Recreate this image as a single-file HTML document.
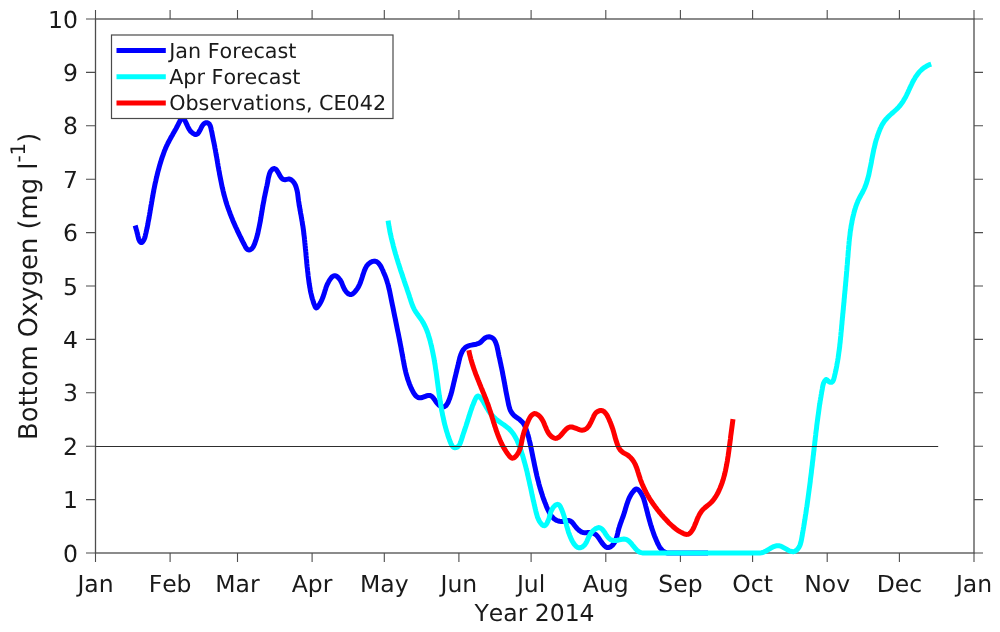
<!DOCTYPE html>
<html><head><meta charset="utf-8"><title>Bottom Oxygen</title>
<style>html,body{margin:0;padding:0;background:#fff}svg{display:block}text{font-family:"DejaVu Sans","Liberation Sans",sans-serif;fill:#1a1a1a;font-kerning:none;font-feature-settings:"kern" 0,"liga" 0;text-rendering:geometricPrecision}</style></head><body>
<svg width="1000" height="632" viewBox="0 0 1000 632">
<rect width="1000" height="632" fill="#fff"/>
<rect x="95.5" y="19.0" width="878.5" height="534.0" stroke="#4d4d4d" stroke-width="1.3" fill="none"/>
<g stroke="#4d4d4d" stroke-width="1.1" fill="none">
<path d="M95.5 553.0 V562.0 M95.5 19.0 V10.0"/>
<path d="M170.1 553.0 V562.0 M170.1 19.0 V10.0"/>
<path d="M237.5 553.0 V562.0 M237.5 19.0 V10.0"/>
<path d="M312.1 553.0 V562.0 M312.1 19.0 V10.0"/>
<path d="M384.3 553.0 V562.0 M384.3 19.0 V10.0"/>
<path d="M458.9 553.0 V562.0 M458.9 19.0 V10.0"/>
<path d="M531.1 553.0 V562.0 M531.1 19.0 V10.0"/>
<path d="M605.8 553.0 V562.0 M605.8 19.0 V10.0"/>
<path d="M680.4 553.0 V562.0 M680.4 19.0 V10.0"/>
<path d="M752.6 553.0 V562.0 M752.6 19.0 V10.0"/>
<path d="M827.2 553.0 V562.0 M827.2 19.0 V10.0"/>
<path d="M899.4 553.0 V562.0 M899.4 19.0 V10.0"/>
<path d="M974.0 553.0 V562.0 M974.0 19.0 V10.0"/>
<path d="M95.5 553.0 H86.0 M974.0 553.0 H983.0"/>
<path d="M95.5 499.6 H86.0 M974.0 499.6 H983.0"/>
<path d="M95.5 446.2 H86.0 M974.0 446.2 H983.0"/>
<path d="M95.5 392.8 H86.0 M974.0 392.8 H983.0"/>
<path d="M95.5 339.4 H86.0 M974.0 339.4 H983.0"/>
<path d="M95.5 286.0 H86.0 M974.0 286.0 H983.0"/>
<path d="M95.5 232.6 H86.0 M974.0 232.6 H983.0"/>
<path d="M95.5 179.2 H86.0 M974.0 179.2 H983.0"/>
<path d="M95.5 125.8 H86.0 M974.0 125.8 H983.0"/>
<path d="M95.5 72.4 H86.0 M974.0 72.4 H983.0"/>
<path d="M95.5 19.0 H86.0 M974.0 19.0 H983.0"/>
</g>
<g fill="none" stroke-width="5" stroke-linejoin="round" stroke-linecap="butt">
<path stroke="#0000ff" d="M135.2 225.5 L135.6 227.0 L136.0 228.5 L136.4 229.9 L136.8 231.3 L137.1 232.7 L137.5 234.1 L137.8 235.6 L138.2 237.1 L138.6 238.7 L139.2 240.2 L139.9 241.6 L140.8 242.5 L141.9 242.4 L142.9 241.4 L143.8 240.1 L144.4 238.7 L144.9 237.3 L145.3 235.8 L145.6 234.3 L146.0 232.8 L146.3 231.4 L146.6 229.9 L147.0 228.4 L147.3 226.9 L147.6 225.5 L147.9 224.0 L148.1 222.5 L148.4 221.1 L148.7 219.6 L149.0 218.1 L149.2 216.6 L149.5 215.2 L149.7 213.7 L150.0 212.2 L150.2 210.7 L150.5 209.3 L150.7 207.8 L151.0 206.3 L151.2 204.9 L151.5 203.4 L151.7 201.9 L152.0 200.4 L152.2 199.0 L152.5 197.5 L152.8 196.0 L153.0 194.6 L153.3 193.1 L153.6 191.6 L153.8 190.1 L154.1 188.7 L154.4 187.2 L154.7 185.7 L155.0 184.3 L155.3 182.8 L155.7 181.3 L156.0 179.8 L156.3 178.4 L156.7 176.9 L157.0 175.5 L157.4 174.0 L157.7 172.5 L158.1 171.1 L158.5 169.6 L158.9 168.2 L159.3 166.7 L159.7 165.3 L160.1 163.8 L160.6 162.4 L161.0 161.0 L161.4 159.6 L161.9 158.1 L162.4 156.7 L162.9 155.3 L163.4 153.9 L163.9 152.5 L164.4 151.1 L165.0 149.7 L165.5 148.4 L166.1 147.0 L166.7 145.7 L167.4 144.3 L168.0 143.0 L168.7 141.7 L169.4 140.4 L170.1 139.1 L170.8 137.8 L171.5 136.5 L172.3 135.2 L173.0 133.9 L173.7 132.6 L174.5 131.3 L175.2 130.0 L176.0 128.7 L176.7 127.3 L177.4 126.0 L178.1 124.6 L178.8 123.2 L179.5 121.8 L180.2 120.4 L180.8 118.9 L181.5 117.8 L182.2 117.3 L183.1 117.8 L184.0 119.0 L184.9 120.5 L185.7 122.1 L186.4 123.6 L187.1 125.1 L187.7 126.5 L188.3 127.8 L189.0 129.0 L189.8 130.2 L190.7 131.4 L191.8 132.4 L193.0 133.4 L194.4 134.2 L195.7 134.5 L196.8 134.3 L197.8 133.6 L198.7 132.5 L199.5 131.1 L200.3 129.6 L201.1 128.0 L201.9 126.4 L202.8 125.0 L203.8 123.8 L204.9 123.1 L206.1 122.7 L207.3 122.8 L208.4 123.3 L209.4 124.2 L210.1 125.4 L210.6 126.8 L211.0 128.4 L211.3 130.0 L211.7 131.6 L212.0 133.1 L212.3 134.7 L212.6 136.2 L212.9 137.7 L213.2 139.2 L213.5 140.7 L213.8 142.1 L214.1 143.6 L214.4 145.0 L214.7 146.4 L214.9 147.9 L215.2 149.3 L215.5 150.7 L215.7 152.2 L216.0 153.6 L216.2 155.1 L216.5 156.6 L216.8 158.0 L217.0 159.5 L217.3 161.0 L217.5 162.4 L217.8 163.9 L218.0 165.4 L218.3 166.9 L218.6 168.4 L218.8 169.9 L219.1 171.3 L219.4 172.8 L219.6 174.3 L219.9 175.8 L220.2 177.3 L220.5 178.8 L220.8 180.3 L221.1 181.8 L221.4 183.2 L221.7 184.7 L222.0 186.2 L222.3 187.7 L222.7 189.1 L223.0 190.6 L223.4 192.1 L223.7 193.5 L224.1 195.0 L224.5 196.4 L224.9 197.9 L225.3 199.3 L225.7 200.7 L226.1 202.1 L226.6 203.6 L227.0 205.0 L227.5 206.4 L228.0 207.8 L228.5 209.2 L229.0 210.6 L229.5 211.9 L230.0 213.3 L230.5 214.7 L231.1 216.1 L231.6 217.5 L232.2 218.8 L232.7 220.2 L233.3 221.6 L233.9 222.9 L234.5 224.3 L235.1 225.7 L235.7 227.1 L236.4 228.4 L237.0 229.8 L237.6 231.2 L238.3 232.5 L238.9 233.9 L239.6 235.3 L240.3 236.7 L241.0 238.0 L241.6 239.4 L242.3 240.8 L243.0 242.2 L243.7 243.6 L244.5 245.0 L245.2 246.4 L245.9 247.7 L246.8 248.8 L247.7 249.6 L248.8 250.0 L250.0 249.8 L251.2 249.1 L252.3 248.2 L253.2 246.9 L253.9 245.4 L254.6 243.9 L255.1 242.4 L255.6 240.9 L256.1 239.5 L256.5 238.1 L256.9 236.7 L257.3 235.3 L257.7 233.9 L258.0 232.5 L258.3 231.1 L258.6 229.6 L258.9 228.2 L259.2 226.7 L259.5 225.3 L259.8 223.8 L260.1 222.3 L260.4 220.8 L260.6 219.3 L260.9 217.8 L261.1 216.3 L261.4 214.8 L261.6 213.3 L261.9 211.8 L262.1 210.3 L262.4 208.8 L262.6 207.3 L262.9 205.8 L263.1 204.4 L263.4 202.9 L263.7 201.4 L264.0 200.0 L264.2 198.5 L264.5 197.1 L264.8 195.7 L265.1 194.2 L265.4 192.8 L265.7 191.4 L266.0 189.9 L266.3 188.5 L266.6 187.0 L267.0 185.6 L267.3 184.1 L267.6 182.6 L267.9 181.0 L268.1 179.5 L268.4 177.9 L268.8 176.3 L269.2 174.8 L269.6 173.4 L270.2 172.0 L270.9 170.8 L271.8 169.8 L272.9 168.9 L274.0 168.5 L275.1 168.8 L276.2 169.6 L277.1 170.8 L278.0 172.2 L278.9 173.8 L279.8 175.4 L280.6 176.8 L281.5 178.0 L282.5 179.0 L283.7 179.6 L285.0 179.7 L286.6 179.4 L288.2 179.1 L289.6 179.1 L290.9 179.6 L292.0 180.4 L292.9 181.3 L293.8 182.3 L294.5 183.5 L295.2 184.7 L295.7 186.0 L296.2 187.3 L296.6 188.8 L297.0 190.3 L297.3 191.8 L297.6 193.3 L297.8 194.9 L298.0 196.5 L298.2 198.1 L298.4 199.7 L298.6 201.2 L298.9 202.8 L299.1 204.3 L299.3 205.8 L299.6 207.3 L299.9 208.8 L300.1 210.3 L300.4 211.7 L300.6 213.2 L300.9 214.6 L301.2 216.1 L301.4 217.5 L301.7 219.0 L301.9 220.4 L302.2 221.8 L302.4 223.3 L302.6 224.8 L302.9 226.2 L303.1 227.7 L303.3 229.1 L303.5 230.6 L303.7 232.1 L303.8 233.6 L304.0 235.0 L304.2 236.5 L304.4 238.0 L304.5 239.5 L304.7 241.0 L304.8 242.5 L305.0 244.0 L305.1 245.5 L305.3 247.0 L305.4 248.5 L305.6 250.0 L305.7 251.5 L305.9 253.0 L306.0 254.5 L306.1 256.0 L306.3 257.5 L306.4 259.0 L306.6 260.5 L306.7 262.0 L306.8 263.5 L307.0 265.0 L307.1 266.5 L307.3 268.0 L307.5 269.5 L307.6 271.0 L307.8 272.5 L308.0 274.0 L308.1 275.5 L308.3 277.0 L308.5 278.4 L308.7 279.9 L308.9 281.4 L309.1 282.9 L309.3 284.3 L309.6 285.8 L309.8 287.3 L310.1 288.7 L310.3 290.2 L310.6 291.7 L310.9 293.1 L311.3 294.6 L311.6 296.0 L312.0 297.5 L312.4 299.0 L312.9 300.4 L313.3 301.9 L313.8 303.4 L314.4 304.8 L314.9 306.3 L315.6 307.5 L316.4 307.9 L317.3 307.3 L318.4 306.0 L319.3 304.6 L320.2 303.2 L320.9 301.8 L321.6 300.4 L322.2 299.0 L322.8 297.6 L323.3 296.2 L323.7 294.8 L324.2 293.5 L324.6 292.1 L325.0 290.7 L325.5 289.3 L325.9 287.9 L326.4 286.5 L327.0 285.1 L327.6 283.7 L328.3 282.4 L329.0 281.0 L329.9 279.6 L330.8 278.3 L331.8 277.1 L333.0 276.2 L334.1 275.7 L335.4 275.7 L336.6 276.3 L337.9 277.3 L339.0 278.5 L340.1 279.8 L340.9 281.2 L341.6 282.5 L342.1 283.8 L342.6 285.1 L343.1 286.4 L343.7 287.7 L344.4 289.1 L345.2 290.4 L346.2 291.8 L347.4 293.0 L348.6 294.0 L349.9 294.5 L351.2 294.5 L352.5 293.9 L353.7 293.0 L354.8 291.9 L355.8 290.8 L356.7 289.6 L357.5 288.4 L358.3 287.1 L359.0 285.8 L359.6 284.5 L360.2 283.1 L360.7 281.7 L361.2 280.2 L361.7 278.8 L362.2 277.3 L362.6 275.9 L363.1 274.4 L363.6 273.0 L364.1 271.5 L364.7 270.1 L365.2 268.7 L365.9 267.4 L366.6 266.1 L367.5 264.9 L368.6 263.8 L369.8 262.8 L371.2 262.0 L372.7 261.4 L374.2 261.1 L375.5 261.3 L376.7 261.7 L377.8 262.5 L378.8 263.5 L379.7 264.7 L380.6 266.0 L381.4 267.5 L382.1 269.0 L382.8 270.4 L383.4 271.9 L384.0 273.3 L384.6 274.7 L385.2 276.1 L385.7 277.4 L386.2 278.8 L386.7 280.2 L387.1 281.6 L387.5 283.0 L388.0 284.4 L388.3 285.8 L388.7 287.2 L389.0 288.7 L389.4 290.1 L389.7 291.6 L390.0 293.1 L390.3 294.5 L390.6 296.0 L390.9 297.5 L391.2 299.0 L391.5 300.4 L391.8 301.9 L392.1 303.4 L392.4 304.9 L392.7 306.3 L393.0 307.8 L393.3 309.3 L393.6 310.8 L393.9 312.2 L394.2 313.7 L394.5 315.2 L394.8 316.7 L395.1 318.1 L395.4 319.6 L395.7 321.1 L396.0 322.5 L396.3 324.0 L396.6 325.5 L396.9 327.0 L397.2 328.4 L397.5 329.9 L397.8 331.4 L398.1 332.8 L398.4 334.3 L398.7 335.8 L399.0 337.2 L399.3 338.7 L399.6 340.2 L399.8 341.6 L400.1 343.1 L400.4 344.6 L400.7 346.0 L401.0 347.5 L401.2 349.0 L401.5 350.4 L401.8 351.9 L402.1 353.4 L402.3 354.8 L402.6 356.3 L402.9 357.8 L403.1 359.2 L403.4 360.7 L403.7 362.1 L403.9 363.6 L404.2 365.0 L404.5 366.5 L404.8 368.0 L405.1 369.4 L405.5 370.9 L405.8 372.3 L406.2 373.8 L406.6 375.2 L407.0 376.7 L407.4 378.1 L407.9 379.6 L408.4 381.0 L408.9 382.4 L409.4 383.9 L410.0 385.3 L410.6 386.8 L411.2 388.2 L411.9 389.6 L412.6 391.0 L413.4 392.4 L414.2 393.8 L415.1 395.0 L416.0 396.0 L417.1 396.9 L418.2 397.5 L419.4 397.8 L420.8 397.8 L422.3 397.5 L423.8 396.9 L425.4 396.3 L427.0 395.7 L428.4 395.4 L429.8 395.4 L430.9 395.8 L432.0 396.5 L433.0 397.6 L433.9 398.8 L434.9 400.1 L435.8 401.5 L436.8 402.9 L437.9 404.1 L439.0 405.2 L440.4 406.1 L441.7 406.7 L443.1 406.9 L444.4 406.7 L445.5 406.0 L446.4 405.0 L447.3 403.7 L448.1 402.2 L448.7 400.7 L449.4 399.1 L449.9 397.6 L450.4 396.0 L450.9 394.6 L451.3 393.1 L451.7 391.7 L452.1 390.2 L452.4 388.8 L452.7 387.4 L453.1 386.0 L453.4 384.6 L453.7 383.3 L454.0 381.9 L454.4 380.5 L454.7 379.1 L455.0 377.7 L455.4 376.3 L455.7 374.9 L456.1 373.4 L456.4 372.0 L456.8 370.5 L457.1 369.0 L457.5 367.5 L457.9 366.0 L458.2 364.5 L458.6 362.9 L458.9 361.4 L459.3 359.8 L459.7 358.2 L460.1 356.7 L460.6 355.2 L461.2 353.7 L461.8 352.4 L462.4 351.1 L463.2 349.9 L464.1 348.8 L465.0 347.8 L466.1 347.0 L467.3 346.3 L468.6 345.8 L470.0 345.4 L471.5 345.1 L473.1 344.8 L474.7 344.5 L476.3 344.2 L477.8 343.7 L479.2 343.1 L480.5 342.3 L481.7 341.2 L482.8 340.1 L483.9 339.0 L485.1 338.0 L486.3 337.3 L487.6 336.9 L489.0 336.8 L490.4 337.0 L491.6 337.5 L492.7 338.1 L493.7 339.0 L494.5 340.1 L495.2 341.4 L495.8 342.7 L496.3 344.2 L496.8 345.7 L497.2 347.3 L497.5 348.9 L497.9 350.5 L498.2 352.1 L498.5 353.6 L498.8 355.2 L499.1 356.6 L499.5 358.1 L499.8 359.6 L500.1 361.0 L500.4 362.4 L500.7 363.8 L501.0 365.3 L501.3 366.7 L501.6 368.1 L501.9 369.5 L502.2 370.9 L502.5 372.3 L502.7 373.8 L503.0 375.2 L503.3 376.7 L503.6 378.2 L503.8 379.6 L504.1 381.1 L504.4 382.6 L504.7 384.1 L504.9 385.5 L505.2 387.0 L505.5 388.5 L505.7 390.0 L506.0 391.5 L506.3 393.0 L506.6 394.5 L506.9 396.0 L507.2 397.5 L507.5 399.0 L507.8 400.5 L508.1 402.0 L508.4 403.5 L508.7 405.0 L509.1 406.4 L509.5 407.9 L510.0 409.3 L510.5 410.6 L511.2 411.9 L512.0 413.1 L512.9 414.3 L513.9 415.3 L515.1 416.3 L516.3 417.2 L517.5 418.1 L518.8 418.9 L519.9 419.8 L521.0 420.8 L522.1 421.8 L523.0 422.9 L523.8 424.1 L524.5 425.4 L525.2 426.7 L525.7 428.1 L526.2 429.6 L526.7 431.0 L527.2 432.5 L527.6 434.0 L528.1 435.4 L528.5 436.9 L528.9 438.4 L529.2 439.8 L529.6 441.3 L529.9 442.8 L530.3 444.2 L530.6 445.7 L530.9 447.2 L531.2 448.6 L531.5 450.1 L531.8 451.6 L532.1 453.0 L532.4 454.5 L532.7 456.0 L533.0 457.4 L533.3 458.9 L533.6 460.3 L533.9 461.8 L534.2 463.3 L534.5 464.7 L534.8 466.2 L535.1 467.6 L535.4 469.1 L535.7 470.5 L536.0 472.0 L536.4 473.4 L536.7 474.9 L537.0 476.3 L537.4 477.8 L537.7 479.2 L538.1 480.7 L538.5 482.1 L538.8 483.6 L539.2 485.0 L539.6 486.4 L540.0 487.9 L540.5 489.3 L540.9 490.7 L541.3 492.2 L541.8 493.6 L542.3 495.0 L542.7 496.5 L543.2 497.9 L543.7 499.3 L544.3 500.8 L544.8 502.2 L545.4 503.6 L545.9 505.0 L546.5 506.5 L547.1 507.9 L547.7 509.3 L548.4 510.7 L549.1 512.1 L549.8 513.4 L550.6 514.7 L551.4 515.9 L552.3 517.1 L553.3 518.1 L554.4 519.0 L555.5 519.8 L556.8 520.5 L558.2 521.0 L559.6 521.3 L561.1 521.5 L562.7 521.5 L564.2 521.2 L565.8 520.9 L567.3 520.5 L568.7 520.4 L569.9 520.8 L571.1 521.4 L572.2 522.4 L573.2 523.6 L574.2 524.9 L575.2 526.2 L576.2 527.5 L577.3 528.7 L578.4 529.8 L579.5 530.7 L580.7 531.5 L582.0 532.2 L583.3 532.6 L584.7 532.8 L586.2 532.7 L587.7 532.6 L589.3 532.5 L590.9 532.6 L592.4 532.9 L593.8 533.4 L595.0 534.1 L596.2 534.9 L597.1 535.9 L598.0 537.0 L598.9 538.2 L599.7 539.5 L600.6 540.9 L601.6 542.3 L602.6 543.7 L603.7 545.0 L604.8 546.1 L605.9 546.9 L607.1 547.5 L608.3 547.6 L609.5 547.3 L610.8 546.7 L612.0 545.7 L613.1 544.5 L614.0 543.3 L614.8 541.9 L615.5 540.6 L616.1 539.2 L616.5 537.7 L617.0 536.3 L617.3 534.8 L617.7 533.3 L618.0 531.8 L618.4 530.4 L618.7 528.9 L619.2 527.5 L619.6 526.1 L620.1 524.6 L620.6 523.2 L621.1 521.8 L621.6 520.4 L622.1 519.0 L622.7 517.6 L623.2 516.2 L623.6 514.8 L624.1 513.4 L624.6 511.9 L625.0 510.5 L625.4 509.0 L625.8 507.6 L626.3 506.2 L626.7 504.7 L627.2 503.3 L627.7 501.9 L628.2 500.5 L628.7 499.1 L629.4 497.7 L630.0 496.4 L630.8 495.0 L631.5 493.8 L632.4 492.5 L633.4 491.3 L634.4 490.1 L635.5 489.3 L636.7 489.0 L637.9 489.5 L639.0 490.5 L640.1 491.8 L641.1 493.3 L641.9 494.8 L642.6 496.2 L643.3 497.7 L643.8 499.1 L644.2 500.5 L644.6 501.9 L645.0 503.3 L645.4 504.7 L645.7 506.1 L646.1 507.5 L646.5 508.9 L646.8 510.4 L647.2 511.8 L647.6 513.2 L647.9 514.7 L648.3 516.1 L648.7 517.6 L649.1 519.0 L649.5 520.5 L649.9 521.9 L650.3 523.4 L650.7 524.8 L651.2 526.2 L651.6 527.7 L652.1 529.1 L652.6 530.5 L653.1 532.0 L653.6 533.4 L654.1 534.8 L654.6 536.2 L655.2 537.6 L655.8 539.0 L656.4 540.4 L657.0 541.8 L657.6 543.2 L658.3 544.5 L659.0 545.9 L659.7 547.2 L660.6 548.4 L661.5 549.5 L662.5 550.6 L663.6 551.5 L664.9 552.2 L666.4 552.7 L668.0 553.0 L708.0 553.0"/>
<path stroke="#00ffff" d="M388.1 220.6 L388.3 222.1 L388.5 223.6 L388.8 225.1 L389.0 226.5 L389.3 228.0 L389.6 229.5 L389.8 231.0 L390.1 232.4 L390.4 233.9 L390.8 235.4 L391.1 236.9 L391.4 238.3 L391.8 239.8 L392.1 241.2 L392.5 242.7 L392.9 244.1 L393.2 245.6 L393.6 247.0 L394.0 248.5 L394.4 249.9 L394.8 251.4 L395.2 252.8 L395.6 254.2 L396.1 255.7 L396.5 257.1 L396.9 258.5 L397.4 260.0 L397.8 261.4 L398.2 262.8 L398.7 264.3 L399.2 265.7 L399.6 267.1 L400.1 268.5 L400.5 270.0 L401.0 271.4 L401.5 272.8 L402.0 274.2 L402.4 275.6 L402.9 277.1 L403.4 278.5 L403.9 279.9 L404.3 281.3 L404.8 282.7 L405.3 284.2 L405.8 285.6 L406.3 287.0 L406.8 288.4 L407.2 289.8 L407.7 291.3 L408.2 292.7 L408.7 294.1 L409.2 295.5 L409.6 297.0 L410.1 298.4 L410.6 299.8 L411.0 301.2 L411.5 302.7 L412.0 304.1 L412.5 305.5 L413.1 306.9 L413.7 308.2 L414.4 309.6 L415.1 310.9 L415.9 312.1 L416.8 313.4 L417.6 314.6 L418.5 315.8 L419.4 317.1 L420.3 318.3 L421.2 319.5 L422.0 320.8 L422.8 322.1 L423.6 323.4 L424.2 324.7 L424.9 326.0 L425.5 327.3 L426.1 328.7 L426.7 330.1 L427.2 331.5 L427.7 332.8 L428.2 334.3 L428.6 335.7 L429.0 337.1 L429.5 338.5 L429.9 340.0 L430.3 341.4 L430.6 342.8 L431.0 344.3 L431.3 345.7 L431.7 347.2 L432.0 348.7 L432.3 350.1 L432.6 351.6 L432.9 353.1 L433.2 354.6 L433.5 356.0 L433.8 357.5 L434.1 359.0 L434.3 360.5 L434.6 362.0 L434.8 363.5 L435.1 365.0 L435.3 366.5 L435.5 368.0 L435.7 369.5 L436.0 370.9 L436.2 372.4 L436.4 373.9 L436.6 375.4 L436.8 376.9 L437.0 378.4 L437.2 379.9 L437.4 381.4 L437.6 382.9 L437.8 384.4 L438.0 385.9 L438.2 387.4 L438.4 388.9 L438.6 390.4 L438.8 391.8 L439.0 393.3 L439.2 394.8 L439.4 396.3 L439.7 397.8 L439.9 399.2 L440.1 400.7 L440.3 402.1 L440.6 403.6 L440.8 405.1 L441.0 406.5 L441.3 408.0 L441.5 409.4 L441.8 410.9 L442.1 412.3 L442.4 413.8 L442.6 415.2 L443.0 416.7 L443.3 418.1 L443.6 419.6 L443.9 421.0 L444.3 422.5 L444.6 424.0 L445.0 425.4 L445.4 426.9 L445.8 428.4 L446.2 429.8 L446.6 431.3 L447.1 432.8 L447.6 434.3 L448.0 435.8 L448.5 437.3 L449.1 438.8 L449.6 440.3 L450.2 441.8 L450.8 443.3 L451.4 444.6 L452.1 445.8 L452.9 446.8 L453.9 447.5 L455.0 447.7 L456.2 447.6 L457.4 447.0 L458.5 446.1 L459.4 444.9 L460.1 443.5 L460.7 442.0 L461.2 440.5 L461.7 438.9 L462.2 437.4 L462.7 435.9 L463.1 434.5 L463.6 433.0 L464.1 431.6 L464.6 430.2 L465.0 428.8 L465.5 427.4 L466.0 426.0 L466.4 424.6 L466.9 423.2 L467.3 421.8 L467.8 420.4 L468.2 419.0 L468.6 417.6 L469.1 416.2 L469.5 414.8 L470.0 413.4 L470.4 412.0 L470.9 410.5 L471.4 409.1 L471.9 407.6 L472.4 406.1 L473.0 404.7 L473.6 403.2 L474.2 401.7 L474.8 400.2 L475.5 398.7 L476.3 397.4 L477.1 396.4 L477.9 396.0 L478.9 396.3 L479.9 397.1 L480.9 398.3 L481.9 399.6 L482.8 401.0 L483.7 402.4 L484.4 403.8 L485.2 405.1 L485.9 406.4 L486.7 407.8 L487.4 409.0 L488.2 410.3 L489.0 411.5 L489.9 412.7 L490.8 413.9 L491.8 415.0 L492.8 416.1 L493.8 417.1 L494.9 418.1 L496.0 419.1 L497.2 420.1 L498.4 421.0 L499.7 421.9 L500.9 422.8 L502.2 423.7 L503.4 424.5 L504.7 425.4 L505.9 426.3 L507.1 427.3 L508.3 428.2 L509.4 429.2 L510.4 430.3 L511.4 431.4 L512.3 432.5 L513.2 433.7 L514.0 434.9 L514.8 436.2 L515.5 437.5 L516.2 438.8 L516.9 440.1 L517.5 441.5 L518.1 442.9 L518.7 444.3 L519.2 445.7 L519.7 447.1 L520.3 448.5 L520.8 450.0 L521.2 451.4 L521.7 452.8 L522.2 454.3 L522.6 455.7 L523.1 457.1 L523.5 458.6 L523.9 460.0 L524.3 461.5 L524.7 462.9 L525.1 464.4 L525.5 465.8 L525.9 467.3 L526.2 468.7 L526.6 470.2 L527.0 471.6 L527.3 473.1 L527.6 474.5 L528.0 476.0 L528.3 477.4 L528.6 478.9 L529.0 480.4 L529.3 481.8 L529.6 483.3 L529.9 484.8 L530.3 486.2 L530.6 487.7 L530.9 489.1 L531.2 490.6 L531.5 492.1 L531.8 493.5 L532.1 495.0 L532.5 496.5 L532.8 497.9 L533.1 499.4 L533.4 500.9 L533.8 502.3 L534.1 503.8 L534.4 505.2 L534.8 506.7 L535.1 508.2 L535.5 509.6 L535.8 511.1 L536.2 512.5 L536.6 514.0 L537.0 515.4 L537.4 516.9 L538.0 518.3 L538.6 519.7 L539.3 521.1 L540.2 522.5 L541.2 523.8 L542.3 524.9 L543.4 525.6 L544.4 525.7 L545.4 525.2 L546.3 524.3 L547.1 522.9 L547.8 521.4 L548.5 519.7 L549.1 518.0 L549.6 516.3 L550.0 514.8 L550.4 513.3 L550.9 511.8 L551.5 510.5 L552.2 509.1 L553.0 507.8 L554.0 506.5 L555.2 505.4 L556.4 504.6 L557.5 504.3 L558.6 504.6 L559.5 505.4 L560.4 506.7 L561.1 508.2 L561.8 509.8 L562.4 511.4 L563.0 513.0 L563.5 514.5 L564.0 516.0 L564.4 517.4 L564.8 518.8 L565.2 520.2 L565.6 521.6 L565.9 522.9 L566.3 524.3 L566.6 525.6 L567.0 527.0 L567.4 528.3 L567.8 529.7 L568.2 531.1 L568.6 532.5 L569.2 533.9 L569.7 535.4 L570.3 536.9 L571.0 538.4 L571.7 540.0 L572.5 541.5 L573.4 543.0 L574.3 544.3 L575.3 545.5 L576.3 546.5 L577.4 547.3 L578.6 547.7 L579.8 547.8 L581.0 547.5 L582.3 546.9 L583.5 546.0 L584.6 544.9 L585.5 543.7 L586.3 542.5 L586.9 541.2 L587.5 539.8 L588.1 538.4 L588.7 537.1 L589.4 535.7 L590.2 534.2 L591.2 532.8 L592.3 531.5 L593.5 530.3 L594.7 529.3 L596.0 528.5 L597.3 527.9 L598.5 527.6 L599.7 527.7 L600.8 528.2 L601.9 529.0 L602.9 530.0 L603.8 531.3 L604.8 532.6 L605.7 534.1 L606.6 535.5 L607.6 536.8 L608.6 538.0 L609.7 538.9 L610.8 539.7 L612.0 540.2 L613.3 540.5 L614.7 540.6 L616.1 540.5 L617.6 540.3 L619.2 539.9 L620.8 539.5 L622.4 539.2 L623.8 539.0 L625.2 539.2 L626.5 539.6 L627.7 540.2 L628.9 541.1 L630.0 542.1 L631.0 543.2 L632.0 544.4 L633.0 545.7 L634.0 546.9 L635.1 548.2 L636.1 549.3 L637.2 550.4 L638.4 551.3 L639.6 552.1 L641.0 552.6 L642.4 552.9 L644.0 552.9 L760.0 553.0 L761.4 552.8 L762.8 552.5 L764.1 551.9 L765.5 551.3 L766.9 550.5 L768.3 549.7 L769.6 548.8 L771.0 548.0 L772.4 547.3 L773.8 546.6 L775.2 546.1 L776.6 545.8 L778.0 545.7 L779.4 545.8 L780.8 546.2 L782.2 546.8 L783.6 547.6 L785.0 548.4 L786.4 549.2 L787.8 550.0 L789.2 550.7 L790.5 551.3 L791.9 551.6 L793.2 551.7 L794.5 551.4 L795.7 550.8 L796.9 549.9 L797.9 548.8 L798.8 547.6 L799.5 546.3 L800.1 544.9 L800.6 543.4 L801.0 541.9 L801.3 540.4 L801.6 538.9 L801.9 537.3 L802.2 535.8 L802.4 534.3 L802.7 532.8 L802.9 531.3 L803.2 529.9 L803.4 528.4 L803.7 526.9 L803.9 525.5 L804.2 524.0 L804.4 522.5 L804.6 521.1 L804.9 519.6 L805.1 518.1 L805.3 516.7 L805.5 515.2 L805.8 513.7 L806.0 512.3 L806.2 510.8 L806.4 509.3 L806.6 507.8 L806.9 506.4 L807.1 504.9 L807.3 503.4 L807.5 501.9 L807.7 500.4 L807.9 499.0 L808.1 497.5 L808.3 496.0 L808.5 494.5 L808.7 493.0 L808.9 491.5 L809.1 490.0 L809.3 488.5 L809.5 487.1 L809.7 485.6 L809.9 484.1 L810.1 482.6 L810.3 481.1 L810.4 479.6 L810.6 478.1 L810.8 476.6 L811.0 475.1 L811.2 473.6 L811.4 472.1 L811.5 470.6 L811.7 469.2 L811.9 467.7 L812.1 466.2 L812.3 464.7 L812.4 463.2 L812.6 461.7 L812.8 460.2 L813.0 458.7 L813.1 457.2 L813.3 455.7 L813.5 454.3 L813.6 452.8 L813.8 451.3 L814.0 449.8 L814.1 448.3 L814.3 446.8 L814.5 445.4 L814.7 443.9 L814.8 442.4 L815.0 440.9 L815.2 439.4 L815.3 437.9 L815.5 436.5 L815.7 435.0 L815.8 433.5 L816.0 432.0 L816.2 430.5 L816.4 429.1 L816.6 427.6 L816.7 426.1 L816.9 424.6 L817.1 423.1 L817.3 421.7 L817.5 420.2 L817.7 418.7 L817.9 417.2 L818.1 415.7 L818.3 414.3 L818.5 412.8 L818.7 411.3 L818.9 409.8 L819.1 408.3 L819.3 406.8 L819.5 405.3 L819.8 403.8 L820.0 402.3 L820.2 400.9 L820.5 399.4 L820.7 397.9 L821.0 396.4 L821.2 394.9 L821.5 393.4 L821.7 391.9 L822.0 390.4 L822.3 388.9 L822.5 387.4 L822.8 385.9 L823.2 384.4 L823.6 383.0 L824.3 381.6 L825.1 380.4 L826.0 379.5 L827.0 379.8 L828.1 380.9 L829.2 381.9 L830.4 382.3 L831.5 382.3 L832.4 381.7 L833.1 380.7 L833.7 379.4 L834.1 377.9 L834.5 376.4 L834.8 374.8 L835.2 373.3 L835.5 371.8 L835.9 370.2 L836.2 368.7 L836.5 367.2 L836.8 365.7 L837.0 364.2 L837.3 362.7 L837.6 361.2 L837.8 359.7 L838.1 358.2 L838.3 356.7 L838.5 355.2 L838.7 353.7 L838.9 352.2 L839.1 350.8 L839.3 349.3 L839.5 347.8 L839.7 346.3 L839.8 344.8 L840.0 343.3 L840.2 341.9 L840.3 340.4 L840.5 338.9 L840.6 337.4 L840.8 336.0 L840.9 334.5 L841.0 333.0 L841.2 331.5 L841.3 330.1 L841.5 328.6 L841.6 327.1 L841.7 325.6 L841.9 324.1 L842.0 322.7 L842.1 321.2 L842.3 319.7 L842.4 318.2 L842.6 316.7 L842.7 315.2 L842.8 313.8 L843.0 312.3 L843.1 310.8 L843.3 309.3 L843.4 307.8 L843.5 306.3 L843.7 304.8 L843.8 303.3 L844.0 301.9 L844.1 300.4 L844.2 298.9 L844.4 297.4 L844.5 295.9 L844.6 294.4 L844.8 292.9 L844.9 291.4 L845.1 289.9 L845.2 288.4 L845.3 286.9 L845.5 285.4 L845.6 283.9 L845.7 282.4 L845.9 280.9 L846.0 279.4 L846.1 277.9 L846.3 276.4 L846.4 274.9 L846.5 273.5 L846.6 272.0 L846.8 270.5 L846.9 269.0 L847.0 267.5 L847.1 266.0 L847.3 264.5 L847.4 263.0 L847.5 261.5 L847.6 260.0 L847.7 258.5 L847.9 257.0 L848.0 255.5 L848.1 254.0 L848.2 252.5 L848.3 251.0 L848.5 249.5 L848.6 248.0 L848.7 246.5 L848.9 245.0 L849.0 243.5 L849.1 242.0 L849.3 240.5 L849.4 239.0 L849.6 237.5 L849.8 236.0 L850.0 234.6 L850.1 233.1 L850.3 231.6 L850.6 230.1 L850.8 228.6 L851.0 227.2 L851.2 225.7 L851.5 224.2 L851.8 222.8 L852.0 221.3 L852.3 219.9 L852.6 218.4 L853.0 216.9 L853.3 215.5 L853.7 214.1 L854.0 212.6 L854.4 211.2 L854.8 209.7 L855.3 208.3 L855.7 206.9 L856.2 205.5 L856.7 204.1 L857.3 202.7 L857.8 201.3 L858.4 200.0 L859.1 198.6 L859.8 197.3 L860.5 196.0 L861.2 194.6 L862.0 193.3 L862.7 192.0 L863.3 190.7 L864.0 189.3 L864.6 188.0 L865.2 186.6 L865.7 185.2 L866.2 183.8 L866.7 182.4 L867.1 181.0 L867.5 179.5 L867.9 178.1 L868.3 176.6 L868.7 175.2 L869.0 173.7 L869.3 172.3 L869.6 170.8 L869.9 169.3 L870.2 167.8 L870.5 166.4 L870.8 164.9 L871.1 163.4 L871.4 161.9 L871.6 160.4 L871.9 158.9 L872.2 157.5 L872.5 156.0 L872.8 154.5 L873.1 153.0 L873.4 151.6 L873.7 150.1 L874.0 148.6 L874.4 147.2 L874.7 145.7 L875.1 144.3 L875.4 142.8 L875.8 141.4 L876.2 139.9 L876.7 138.5 L877.1 137.1 L877.6 135.6 L878.1 134.2 L878.6 132.8 L879.1 131.4 L879.7 130.0 L880.2 128.7 L880.9 127.3 L881.5 125.9 L882.2 124.6 L883.0 123.3 L883.8 122.1 L884.6 120.9 L885.5 119.8 L886.5 118.7 L887.5 117.6 L888.6 116.5 L889.6 115.5 L890.7 114.5 L891.8 113.5 L893.0 112.5 L894.1 111.5 L895.2 110.5 L896.3 109.5 L897.3 108.5 L898.4 107.4 L899.4 106.3 L900.3 105.2 L901.2 104.0 L902.1 102.8 L902.9 101.6 L903.7 100.3 L904.4 99.0 L905.2 97.7 L905.9 96.4 L906.6 95.0 L907.2 93.7 L907.9 92.3 L908.5 90.9 L909.2 89.5 L909.8 88.1 L910.4 86.8 L911.1 85.4 L911.8 84.0 L912.4 82.6 L913.1 81.3 L913.8 80.0 L914.6 78.7 L915.3 77.4 L916.1 76.2 L917.0 75.0 L917.8 73.8 L918.8 72.6 L919.7 71.5 L920.8 70.5 L921.8 69.5 L923.0 68.5 L924.2 67.6 L925.4 66.8 L926.8 66.0 L928.2 65.3 L929.7 64.6 L931.2 64.1"/>
<path stroke="#ff0000" d="M468.8 350.3 L469.1 351.8 L469.4 353.2 L469.7 354.7 L470.1 356.2 L470.5 357.6 L470.8 359.1 L471.3 360.5 L471.7 362.0 L472.1 363.4 L472.6 364.8 L473.0 366.2 L473.5 367.6 L474.0 369.1 L474.5 370.5 L475.0 371.9 L475.5 373.3 L476.0 374.7 L476.6 376.1 L477.1 377.5 L477.7 378.9 L478.2 380.2 L478.8 381.6 L479.3 383.0 L479.9 384.4 L480.5 385.8 L481.0 387.2 L481.6 388.6 L482.2 389.9 L482.7 391.3 L483.3 392.7 L483.9 394.1 L484.4 395.5 L485.0 396.9 L485.5 398.3 L486.1 399.6 L486.6 401.0 L487.1 402.4 L487.7 403.8 L488.2 405.2 L488.7 406.7 L489.1 408.1 L489.6 409.5 L490.1 410.9 L490.6 412.3 L491.0 413.7 L491.4 415.2 L491.9 416.6 L492.3 418.0 L492.8 419.5 L493.2 420.9 L493.6 422.3 L494.1 423.7 L494.5 425.2 L495.0 426.6 L495.5 428.0 L495.9 429.4 L496.4 430.8 L496.9 432.2 L497.4 433.6 L497.9 435.0 L498.5 436.4 L499.0 437.8 L499.6 439.2 L500.2 440.6 L500.8 441.9 L501.4 443.3 L502.1 444.6 L502.8 446.0 L503.5 447.3 L504.3 448.6 L505.1 449.9 L505.9 451.2 L506.7 452.5 L507.6 453.7 L508.6 455.0 L509.5 456.2 L510.5 457.2 L511.6 458.0 L512.7 458.2 L513.8 457.9 L515.0 457.1 L516.1 456.0 L517.1 454.6 L518.1 453.1 L518.9 451.6 L519.5 450.1 L520.1 448.6 L520.5 447.1 L520.9 445.7 L521.2 444.2 L521.5 442.8 L521.8 441.3 L522.0 439.9 L522.3 438.6 L522.6 437.2 L523.0 435.8 L523.3 434.5 L523.7 433.1 L524.1 431.7 L524.6 430.3 L525.1 428.9 L525.6 427.4 L526.2 425.9 L526.8 424.4 L527.4 422.8 L528.1 421.2 L528.8 419.6 L529.6 418.1 L530.4 416.8 L531.3 415.6 L532.3 414.7 L533.3 414.0 L534.3 413.6 L535.5 413.7 L536.7 414.1 L537.9 414.8 L539.1 415.7 L540.2 416.9 L541.2 418.1 L542.0 419.4 L542.8 420.7 L543.5 422.1 L544.1 423.5 L544.7 425.0 L545.3 426.4 L545.9 427.8 L546.5 429.3 L547.2 430.7 L547.9 432.0 L548.6 433.3 L549.5 434.5 L550.5 435.6 L551.6 436.6 L552.9 437.5 L554.2 438.1 L555.5 438.4 L556.8 438.2 L558.1 437.6 L559.3 436.8 L560.4 435.7 L561.5 434.5 L562.6 433.3 L563.6 432.0 L564.7 430.8 L565.7 429.7 L566.8 428.7 L567.9 427.8 L569.1 427.3 L570.3 426.9 L571.7 427.0 L573.1 427.3 L574.6 427.8 L576.2 428.4 L577.7 429.0 L579.2 429.6 L580.7 430.0 L582.1 430.2 L583.4 430.1 L584.7 429.7 L585.8 429.0 L586.9 428.2 L587.9 427.1 L588.9 425.9 L589.7 424.5 L590.5 423.1 L591.3 421.5 L592.0 420.0 L592.7 418.5 L593.4 417.0 L594.0 415.6 L594.8 414.3 L595.7 413.1 L596.7 412.1 L597.9 411.3 L599.2 410.8 L600.5 410.5 L601.8 410.6 L603.1 411.0 L604.2 411.7 L605.2 412.7 L606.1 413.9 L607.0 415.2 L607.8 416.7 L608.5 418.2 L609.2 419.7 L609.8 421.2 L610.4 422.6 L610.9 424.0 L611.5 425.4 L611.9 426.7 L612.4 428.0 L612.9 429.4 L613.3 430.7 L613.7 432.1 L614.1 433.6 L614.5 435.0 L614.9 436.5 L615.3 438.0 L615.7 439.4 L616.2 440.9 L616.7 442.4 L617.2 443.8 L617.7 445.2 L618.3 446.5 L618.9 447.9 L619.7 449.1 L620.5 450.3 L621.5 451.3 L622.8 452.3 L624.1 453.1 L625.5 453.9 L626.9 454.7 L628.2 455.5 L629.4 456.5 L630.5 457.5 L631.5 458.6 L632.4 459.7 L633.3 460.9 L634.0 462.1 L634.7 463.4 L635.4 464.7 L635.9 466.1 L636.5 467.4 L637.0 468.9 L637.5 470.3 L637.9 471.7 L638.4 473.2 L638.8 474.6 L639.3 476.1 L639.8 477.5 L640.2 479.0 L640.7 480.4 L641.3 481.8 L641.8 483.2 L642.4 484.6 L643.0 485.9 L643.6 487.3 L644.2 488.7 L644.9 490.0 L645.5 491.3 L646.2 492.6 L646.9 493.9 L647.6 495.2 L648.4 496.5 L649.1 497.8 L649.9 499.1 L650.7 500.3 L651.5 501.6 L652.4 502.8 L653.2 504.0 L654.1 505.2 L654.9 506.4 L655.8 507.6 L656.7 508.8 L657.6 510.0 L658.6 511.2 L659.5 512.3 L660.5 513.5 L661.4 514.6 L662.4 515.7 L663.4 516.9 L664.4 518.0 L665.4 519.1 L666.5 520.2 L667.5 521.3 L668.5 522.4 L669.6 523.5 L670.7 524.5 L671.8 525.5 L672.9 526.5 L674.1 527.5 L675.3 528.5 L676.5 529.4 L677.7 530.3 L679.0 531.1 L680.3 531.9 L681.6 532.6 L683.0 533.3 L684.3 533.9 L685.7 534.3 L687.0 534.4 L688.2 534.2 L689.3 533.7 L690.3 532.8 L691.2 531.8 L692.1 530.6 L692.9 529.2 L693.7 527.7 L694.4 526.2 L695.0 524.6 L695.7 523.1 L696.3 521.6 L696.8 520.2 L697.4 518.7 L698.0 517.4 L698.7 516.0 L699.3 514.7 L700.0 513.5 L700.8 512.3 L701.6 511.1 L702.5 510.0 L703.5 509.0 L704.6 508.0 L705.8 507.0 L707.0 506.0 L708.1 505.1 L709.3 504.1 L710.5 503.1 L711.6 502.0 L712.6 500.9 L713.5 499.7 L714.4 498.5 L715.2 497.3 L716.0 496.1 L716.8 494.8 L717.5 493.5 L718.2 492.2 L718.8 490.9 L719.4 489.5 L720.0 488.2 L720.6 486.8 L721.1 485.4 L721.7 484.0 L722.2 482.6 L722.6 481.2 L723.1 479.8 L723.5 478.3 L723.9 476.9 L724.3 475.5 L724.7 474.0 L725.0 472.5 L725.4 471.1 L725.7 469.6 L726.0 468.1 L726.3 466.6 L726.6 465.1 L726.8 463.7 L727.1 462.2 L727.4 460.7 L727.6 459.2 L727.8 457.7 L728.1 456.2 L728.3 454.7 L728.5 453.2 L728.7 451.8 L728.9 450.3 L729.1 448.8 L729.3 447.3 L729.5 445.9 L729.7 444.4 L729.9 442.9 L730.1 441.4 L730.3 440.0 L730.5 438.5 L730.6 437.0 L730.8 435.5 L731.0 434.1 L731.2 432.6 L731.4 431.1 L731.6 429.6 L731.8 428.2 L732.0 426.7 L732.2 425.2 L732.4 423.7 L732.6 422.2 L732.8 420.7 L733.0 419.2"/>
</g>
<line x1="95.5" x2="938.2" y1="446.5" y2="446.5" stroke="#2e2e2e" stroke-width="1"/>
<g font-size="23.5" text-anchor="middle">
<text x="95.5" y="592">Jan</text>
<text x="170.1" y="592">Feb</text>
<text x="237.5" y="592">Mar</text>
<text x="312.1" y="592">Apr</text>
<text x="384.3" y="592">May</text>
<text x="458.9" y="592">Jun</text>
<text x="531.1" y="592">Jul</text>
<text x="605.8" y="592">Aug</text>
<text x="680.4" y="592">Sep</text>
<text x="752.6" y="592">Oct</text>
<text x="827.2" y="592">Nov</text>
<text x="899.4" y="592">Dec</text>
<text x="974.0" y="592">Jan</text>
</g>
<g font-size="23.5" text-anchor="end">
<text x="78" y="561.6">0</text>
<text x="78" y="508.2">1</text>
<text x="78" y="454.8">2</text>
<text x="78" y="401.4">3</text>
<text x="78" y="348.0">4</text>
<text x="78" y="294.6">5</text>
<text x="78" y="241.2">6</text>
<text x="78" y="187.8">7</text>
<text x="78" y="134.4">8</text>
<text x="78" y="81.0">9</text>
<text x="78" y="27.6">10</text>
</g>
<text x="534.5" y="621.4" font-size="23.5" text-anchor="middle">Year 2014</text>
<text transform="translate(36.9 286.3) rotate(-90)" font-size="25.8" text-anchor="middle">Bottom Oxygen (mg l<tspan font-size="20" dy="-12">-1</tspan><tspan dy="12">)</tspan></text>
<rect x="111.5" y="35" width="281.5" height="83.5" fill="#fff" stroke="#4a4a4a" stroke-width="1.2"/>
<line x1="116.5" x2="165.8" y1="50.5" y2="50.5" stroke="#0000ff" stroke-width="5"/>
<text x="169.2" y="57.7" font-size="20.7" fill="#000">Jan Forecast</text>
<line x1="116.5" x2="165.8" y1="76.7" y2="76.7" stroke="#00ffff" stroke-width="5"/>
<text x="169.2" y="83.9" font-size="20.7" fill="#000">Apr Forecast</text>
<line x1="116.5" x2="165.8" y1="102.9" y2="102.9" stroke="#ff0000" stroke-width="5"/>
<text x="169.2" y="110.1" font-size="20.7" fill="#000">Observations, CE042</text>
</svg></body></html>
